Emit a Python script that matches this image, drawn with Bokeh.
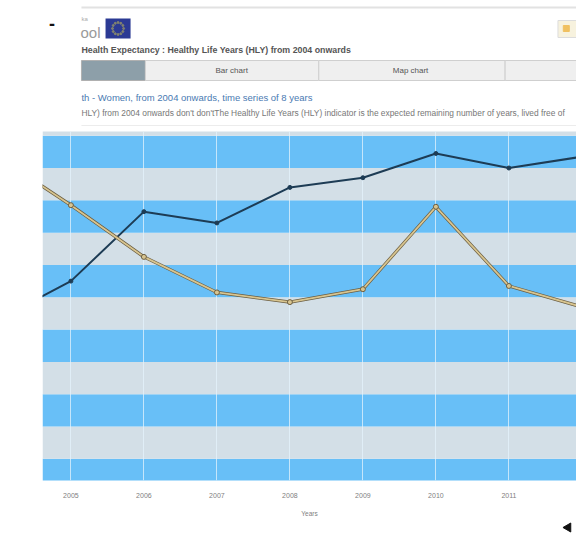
import math
from bokeh.plotting import figure
from bokeh.layouts import column
from bokeh.models import Range1d, FixedTicker
from bokeh.core.properties import value
from bokeh.embed import file_html
from bokeh.resources import INLINE

# ---------------- data ----------------
years = [2004, 2005, 2006, 2007, 2008, 2009, 2010, 2011, 2012]
series_dark = [56.3, 57.5, 59.65, 59.3, 60.4, 60.7, 61.45, 61.0, 61.35]
series_tan = [61.35, 59.85, 58.25, 57.15, 56.85, 57.25, 59.8, 57.35, 56.7]
tick_years = [2005, 2006, 2007, 2008, 2009, 2010, 2011]
band_edges = [51, 52, 53, 54, 55, 56, 57, 58, 59, 60, 61, 62, 63]

FONT = value("Liberation Sans")

# ---------------- header (page chrome) ----------------
hdr = figure(width=576, height=131, x_range=Range1d(0, 576), y_range=Range1d(131, 0),
             output_backend="svg", toolbar_location=None, min_border=0,
             x_axis_location=None, y_axis_location=None)
hdr.grid.visible = False
hdr.outline_line_color = None
hdr.background_fill_color = "white"
hdr.border_fill_color = "white"

hdr.text(x=[7], y=[23], text=["-"], text_font=FONT, text_font_size="18px",
         text_font_style="bold", text_color="#111", text_baseline="middle")
hdr.segment(x0=[42], y0=[7], x1=[576], y1=[7], line_color="#e2e2e2", line_width=2)
hdr.text(x=[42], y=[18], text=["ka"], text_font=FONT, text_font_size="6px",
         text_color="#aaa", text_baseline="middle")
hdr.text(x=[41], y=[32], text=["ool"], text_font=FONT, text_font_size="15px",
         text_color="#9a9a9a", text_baseline="middle")
hdr.quad(left=[68], right=[95], top=[18], bottom=[38], fill_color="#2b3a94", line_color=None)
sx = [81.5 + 6 * math.cos(2 * math.pi * k / 12) for k in range(12)]
sy = [28 + 6 * math.sin(2 * math.pi * k / 12) for k in range(12)]
hdr.scatter(sx, sy, size=2, color="#8f8f6a", alpha=0.8)
hdr.quad(left=[556], right=[590], top=[20], bottom=[37], fill_color="#f7f2de",
         line_color="#dcdcdc")
hdr.scatter([565], [28], size=6, marker="square", color="#f0c060")

hdr.text(x=[42], y=[49], text=["Health Expectancy : Healthy Life Years (HLY) from 2004 onwards"],
         text_font=FONT, text_font_size="8.8px", text_font_style="bold",
         text_color="#555", text_baseline="middle")

hdr.quad(left=[42], right=[111], top=[60], bottom=[80], fill_color="#8d9fa9", line_color="#b0b0b0")
hdr.quad(left=[111, 298, 499], right=[298, 499, 590], top=[60, 60, 60], bottom=[80, 80, 80],
         fill_color="#efefef", line_color="#cfcfcf")
hdr.text(x=[204, 397], y=[70, 70], text=["Bar chart", "Map chart"], text_font=FONT,
         text_font_size="8px", text_color="#555", text_align="center", text_baseline="middle")

hdr.text(x=[42], y=[97], text=["th - Women, from 2004 onwards, time series of 8 years"],
         text_font=FONT, text_font_size="9.5px", text_color="#4a7ab2", text_baseline="middle")
hdr.text(x=[42], y=[112],
         text=["HLY) from 2004 onwards don't don'tThe  Healthy Life Years  (HLY) indicator is the expected remaining number of years, lived free of"],
         text_font=FONT, text_font_size="8.4px", text_color="#777", text_baseline="middle")
hdr.segment(x0=[42], y0=[125], x1=[576], y1=[125], line_color="#ececec", line_width=1)

# ---------------- chart ----------------
x0, x1 = 2004.611, 2011.926
y0, y1 = 51.33, 62.13
p = figure(width=576, height=388, x_range=Range1d(x0, x1), y_range=Range1d(y0, y1),
           output_backend="svg", toolbar_location=None,
           min_border_left=42, min_border_right=0, min_border_top=0, min_border_bottom=37,
           y_axis_location=None)
p.outline_line_color = None
p.background_fill_color = "white"
p.border_fill_color = "white"

band_colors = ["#68bff7" if (e % 2 == 1) else "#d3dfe7" for e in band_edges[:-1]]
p.quad(left=[x0] * (len(band_edges) - 1), right=[x1] * (len(band_edges) - 1),
       bottom=band_edges[:-1], top=band_edges[1:], fill_color=band_colors,
       line_color=None, level="image")

p.ygrid.visible = False
p.xgrid.ticker = FixedTicker(ticks=years)
p.xgrid.grid_line_color = "#e4f3fc"
p.xgrid.grid_line_alpha = 0.75
p.xgrid.grid_line_width = 1

p.xaxis.ticker = FixedTicker(ticks=tick_years)
p.xaxis.axis_line_color = None
p.xaxis.major_tick_line_color = None
p.xaxis.minor_tick_line_color = None
p.xaxis.major_tick_out = 0
p.xaxis.major_label_standoff = 12
p.xaxis.major_label_text_font = "Liberation Sans"
p.xaxis.major_label_text_font_size = "7px"
p.xaxis.major_label_text_color = "#808080"
p.xaxis.axis_label = "Years"
p.xaxis.axis_label_standoff = 9
p.xaxis.axis_label_text_font = "Liberation Sans"
p.xaxis.axis_label_text_font_size = "6.5px"
p.xaxis.axis_label_text_font_style = "normal"
p.xaxis.axis_label_text_color = "#808080"

p.line(years, series_dark, line_color="#1d3c55", line_width=2)
p.scatter(years, series_dark, size=4, color="#1d3c55")
p.line(years, series_tan, line_color="#6b5e42", line_width=3.2)
p.line(years, series_tan, line_color="#d8c590", line_width=1.8)
p.scatter(years, series_tan, size=5, fill_color="#d8c590", line_color="#6b5e42", line_width=1)

# ---------------- footer ----------------
ftr = figure(width=576, height=15, x_range=Range1d(0, 576), y_range=Range1d(15, 0),
             output_backend="svg", toolbar_location=None, min_border=0,
             x_axis_location=None, y_axis_location=None)
ftr.grid.visible = False
ftr.outline_line_color = None
ftr.background_fill_color = "white"
ftr.border_fill_color = "white"
ftr.scatter([567], [8], marker="triangle", angle=math.pi / 2, size=9, color="#111")

layout = column(hdr, p, ftr, spacing=0)
open("out.html", "w").write(file_html(layout, INLINE))
